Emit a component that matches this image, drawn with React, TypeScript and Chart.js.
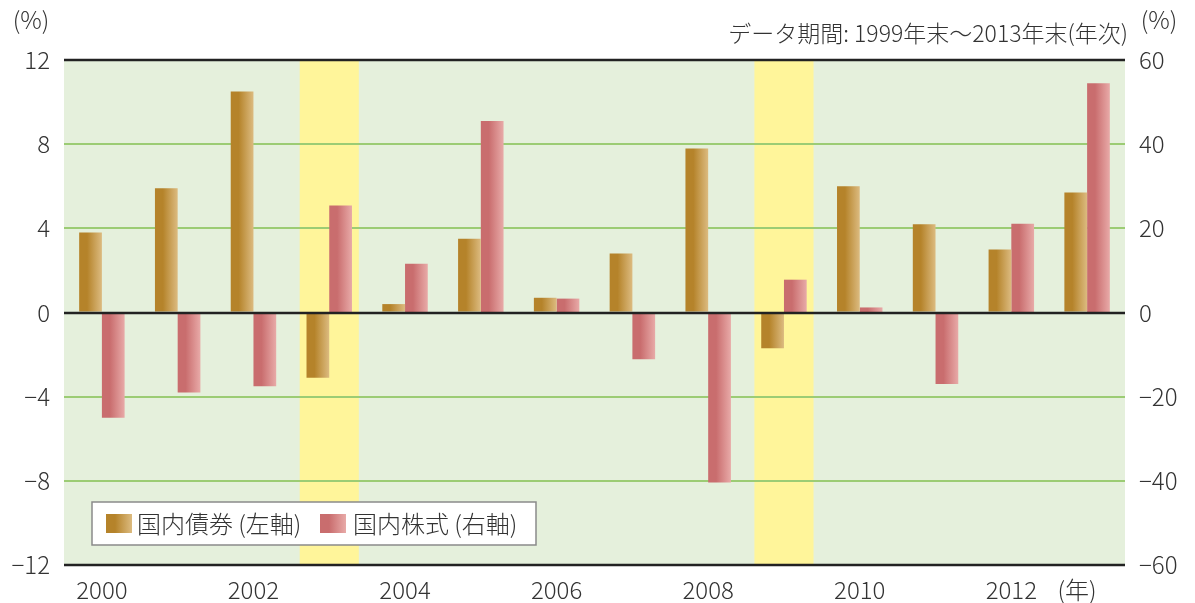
import React, { useEffect, useRef } from "react";
import { Chart, registerables } from "chart.js";

Chart.register(...registerables);

const years = ["2000","2001","2002","2003","2004","2005","2006","2007","2008","2009","2010","2011","2012","2013"];
const bondReturns = [3.8, 5.9, 10.5, -3.1, 0.4, 3.5, 0.7, 2.8, 7.8, -1.7, 6.0, 4.2, 3.0, 5.7];
const stockReturns = [-25.0, -19.0, -17.5, 25.4, 11.6, 45.5, 3.3, -11.1, -40.4, 7.8, 1.2, -17.0, 21.1, 54.5];
const highlightYears = ["2003", "2009"];
const leftTicks = [-12, -8, -4, 0, 4, 8, 12];
const rightTicks = [-60, -40, -20, 0, 20, 40, 60];
const seriesNames = ["国内債券 (左軸)", "国内株式 (右軸)"];
const titleText = "データ期間: 1999年末〜2013年末(年次)";

const FONT = '"Noto Sans CJK JP", "Noto Sans", sans-serif';
const TEXT = "#333333";
const BOND = ["#b5832a", "#dcbb80"];
const STOCK = ["#c96d6e", "#e8aaa8"];

const fmt = (v: number) => (v < 0 ? "\u2212" + Math.abs(v) : String(v));

function makeGrad(c: CanvasRenderingContext2D, x0: number, w: number, cols: string[]) {
  const g = c.createLinearGradient(x0, 0, x0 + w, 0);
  g.addColorStop(0, cols[0]);
  g.addColorStop(0.35, cols[0]);
  g.addColorStop(1, cols[1]);
  return g;
}

function barColor(cols: string[], dsIdx: number) {
  return (ctx: any) => {
    const chart = ctx.chart;
    const xs = chart.scales && chart.scales.x;
    if (!xs || ctx.type !== "data" || !xs.width) return cols[0];
    const c = xs.getPixelForValue(ctx.dataIndex);
    const w = (xs.width / years.length) * 0.6 / 2;
    const x0 = dsIdx === 0 ? c - w : c;
    return makeGrad(chart.ctx, x0, w, cols);
  };
}

const decorPlugin = {
  id: "decor",
  beforeDraw(chart: any) {
    const { ctx, chartArea: a, scales } = chart;
    ctx.save();
    ctx.fillStyle = "#e5f0dc";
    ctx.fillRect(a.left, a.top, a.right - a.left, a.bottom - a.top);
    const cw = scales.x.width / years.length;
    ctx.fillStyle = "#fff59a";
    highlightYears.forEach((y) => {
      const i = years.indexOf(y);
      const c = scales.x.getPixelForValue(i);
      ctx.fillRect(c - cw * 0.39, a.top, cw * 0.78, a.bottom - a.top);
    });
    ctx.restore();
  },
  afterDatasetsDraw(chart: any) {
    const { ctx, chartArea: a, scales } = chart;
    ctx.save();
    ctx.strokeStyle = "#222222";
    ctx.lineWidth = 2.5;
    [12, 0, -12].forEach((v) => {
      const y = Math.round(scales.y.getPixelForValue(v));
      ctx.beginPath();
      ctx.moveTo(a.left, y);
      ctx.lineTo(a.right, y);
      ctx.stroke();
    });
    // legend
    const bx = 92, by = 502, bw = 444, bh = 43;
    ctx.fillStyle = "#ffffff";
    ctx.fillRect(bx, by, bw, bh);
    ctx.strokeStyle = "#8a8a8a";
    ctx.lineWidth = 1.5;
    ctx.strokeRect(bx, by, bw, bh);
    const items = [
      { sx: 106, tx: 137, cols: BOND, name: seriesNames[0] },
      { sx: 320, tx: 353, cols: STOCK, name: seriesNames[1] },
    ];
    ctx.font = `300 24px ${FONT}`;
    ctx.textBaseline = "middle";
    ctx.textAlign = "left";
    items.forEach((it) => {
      ctx.fillStyle = makeGrad(ctx, it.sx, 26, it.cols);
      ctx.fillRect(it.sx, 514, 26, 19);
      ctx.fillStyle = TEXT;
      ctx.fillText(it.name, it.tx, 524, 166);
    });
    // texts
    ctx.font = `300 24px ${FONT}`;
    ctx.fillStyle = TEXT;
    ctx.textAlign = "center";
    ctx.fillText("(%)", 31, 20);
    ctx.fillText("(%)", 1159, 20);
    ctx.fillText("(年)", 1077, 590);
    ctx.textAlign = "right";
    ctx.font = `300 23px ${FONT}`;
    ctx.fillText(titleText, 1128, 33, 456);
    ctx.restore();
  },
};

export default function App() {
  const ref = useRef<HTMLCanvasElement>(null);
  useEffect(() => {
    document.body.style.margin = "0";
    const tickFont = { family: FONT, size: 24, weight: "300" as any };
    const chart = new Chart(ref.current!, {
      type: "bar",
      data: {
        labels: years,
        datasets: [
          {
            label: seriesNames[0],
            data: bondReturns,
            yAxisID: "y",
            backgroundColor: barColor(BOND, 0),
            borderWidth: 0,
            categoryPercentage: 0.6,
            barPercentage: 1.0,
          },
          {
            label: seriesNames[1],
            data: stockReturns,
            yAxisID: "y1",
            backgroundColor: barColor(STOCK, 1),
            borderWidth: 0,
            categoryPercentage: 0.6,
            barPercentage: 1.0,
          },
        ],
      },
      options: {
        animation: false,
        responsive: false,
        maintainAspectRatio: false,
        layout: { padding: { top: 60, left: 0, right: 0, bottom: 0 } },
        plugins: { legend: { display: false }, tooltip: { enabled: false } },
        scales: {
          x: {
            grid: { display: false, drawTicks: false },
            border: { display: false },
            ticks: {
              autoSkip: false,
              maxRotation: 0,
              padding: 10,
              color: TEXT,
              font: tickFont,
              callback: (_v: any, i: number) => (i % 2 === 0 ? years[i] : ""),
            },
            afterFit: (s: any) => { s.height = 38; },
          },
          y: {
            position: "left",
            min: -12,
            max: 12,
            afterBuildTicks: (s: any) => { s.ticks = leftTicks.map((v) => ({ value: v })); },
            grid: {
              drawTicks: false,
              color: (c: any) => (Math.abs(c.tick.value) === 4 || Math.abs(c.tick.value) === 8 ? "#9ccc74" : "rgba(0,0,0,0)"),
              lineWidth: 2,
            },
            border: { display: false },
            ticks: {
              padding: 14,
              color: TEXT,
              font: tickFont,
              callback: (v: any) => fmt(Number(v)),
            },
            afterFit: (s: any) => { s.width = 64; },
          },
          y1: {
            position: "right",
            min: -60,
            max: 60,
            afterBuildTicks: (s: any) => { s.ticks = rightTicks.map((v) => ({ value: v })); },
            grid: { display: false, drawTicks: false },
            border: { display: false },
            ticks: {
              padding: 14,
              color: TEXT,
              font: tickFont,
              callback: (v: any) => fmt(Number(v)),
            },
            afterFit: (s: any) => { s.width = 70; },
          },
        },
      },
      plugins: [decorPlugin],
    });
    return () => chart.destroy();
  }, []);
  return <canvas ref={ref} width={1195} height={603} style={{ display: "block" }} />;
}
